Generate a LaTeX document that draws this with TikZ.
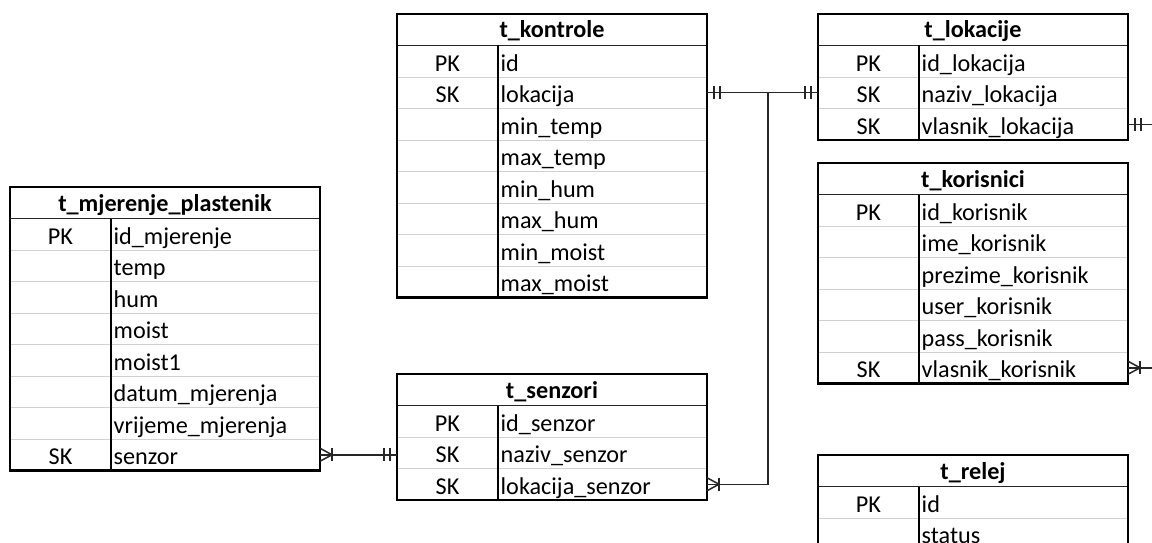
\documentclass[tikz,border=0pt]{standalone}
\usepackage{fontspec}
\setmainfont{Carlito}
\usetikzlibrary{calc}
\newcommand\erfont{\fontsize{24.2}{28}\selectfont}
\tikzset{
 border/.style={line width=2.2pt, black},
 rowsep/.style={line width=0.9pt, black!18},
 divline/.style={line width=1.2pt, black},
 hdrsep/.style={line width=1.2pt, black!85},
 keytxt/.style={anchor=base, inner sep=0pt, font=\erfont},
 fldtxt/.style={anchor=base west, inner sep=0pt, font=\erfont},
 hdrtxt/.style={anchor=base, inner sep=0pt, font=\erfont\bfseries},
 rowbox/.style={minimum width=310pt, minimum height=31.5pt, inner sep=0pt, outer sep=0pt},
 conn/.style={line width=1.5pt, black!85},
}
\newcommand\ertable[5]{%
 \begin{scope}[shift={(#2,#3)}]
  \node[hdrtxt] (#1H) at (155,24) {#4};
  \foreach \k/\f [count=\i] in {#5} {
   \node[rowbox] (#1R\i) at (155,{31.5*\i+15.75}) {};
   \draw[rowsep] (0,{31.5*\i+31.5}) -- (310,{31.5*\i+31.5});
   \node[keytxt] (#1K\i) at (50.5,{31.5*\i+25.5}) {\k};
   \node[fldtxt] (#1F\i) at (103.5,{31.5*\i+25.5}) {\f};
   \xdef\ernrows{\i}
  }
  \pgfmathsetmacro\erh{31.5*(\ernrows+1)}
  \node[rowbox, minimum height=\erh pt, anchor=north west] (#1) at (0,0) {};
  \draw[hdrsep] (0,31.5) -- (310,31.5);
  \draw[divline] (101,31.5) -- (101,\erh);
  \draw[border] (0,0) rectangle (310,\erh);
 \end{scope}}
\newcommand\tipmany[2]{%
 \draw[conn] ($(#1)+(0,-6.5)$) -- ($(#1)+(#2*12,0)$) -- ($(#1)+(0,6.5)$);
 \draw[conn] ($(#1)+(#2*12,-6.5)$) -- ($(#1)+(#2*12,6.5)$);}
\newcommand\tipone[2]{%
 \draw[conn] ($(#1)+(#2*7,-6.5)$) -- ($(#1)+(#2*7,6.5)$);
 \draw[conn] ($(#1)+(#2*13,-6.5)$) -- ($(#1)+(#2*13,6.5)$);}
\begin{document}
\begin{tikzpicture}[x=1pt,y=-1pt]
\useasboundingbox (0,0) rectangle (1152,543);
\fill[white] (0,0) rectangle (1152,543);
\clip (0,0) rectangle (1152,543);

\ertable{mjerenje}{10}{187}{t\_mjerenje\_plastenik}{PK/id\_mjerenje, /temp, /hum, /moist, /moist1, /datum\_mjerenja, /vrijeme\_mjerenja, SK/senzor}
\ertable{kontrole}{397}{14}{t\_kontrole}{PK/id, SK/lokacija, /min\_temp, /max\_temp, /min\_hum, /max\_hum, /min\_moist, /max\_moist}
\ertable{senzori}{397}{374}{t\_senzori}{PK/id\_senzor, SK/naziv\_senzor, SK/lokacija\_senzor}
\ertable{lokacije}{818}{14}{t\_lokacije}{PK/id\_lokacija, SK/naziv\_lokacija, SK/vlasnik\_lokacija}
\ertable{korisnici}{818}{163}{t\_korisnici}{PK/id\_korisnik, /ime\_korisnik, /prezime\_korisnik, /user\_korisnik, /pass\_korisnik, SK/vlasnik\_korisnik}
\ertable{relej}{818}{455}{t\_relej}{PK/id, /status}

% mjerenje.senzor -> senzori
\coordinate (senzoriIn) at (mjerenjeR8.east -| senzori.west);
\draw[conn] (mjerenjeR8.east) -- (senzoriIn);
\tipmany{mjerenjeR8.east}{1}
\tipone{senzoriIn}{-1}

% kontrole.lokacija -> lokacije
\draw[conn] (kontroleR2.east) -- (lokacijeR2.west);
\tipone{kontroleR2.east}{1}
\tipone{lokacijeR2.west}{-1}
\coordinate (jn) at ($(kontroleR2.east)!0.55!(lokacijeR2.west)$);

% senzori.lokacija_senzor -> junction
\draw[conn] (senzoriR3.east) -| (jn);
\tipmany{senzoriR3.east}{1}

% lokacije.vlasnik_lokacija -> off picture
\coordinate (lokOut) at ($(lokacijeR3.east)+(40,0)$);
\draw[conn] (lokacijeR3.east) -- (lokOut);
\tipone{lokacijeR3.east}{1}

% korisnici.vlasnik_korisnik -> off picture
\coordinate (korOut) at ($(korisniciR6.east)+(40,0)$);
\draw[conn] (korisniciR6.east) -- (korOut);
\tipmany{korisniciR6.east}{1}
\end{tikzpicture}
\end{document}
